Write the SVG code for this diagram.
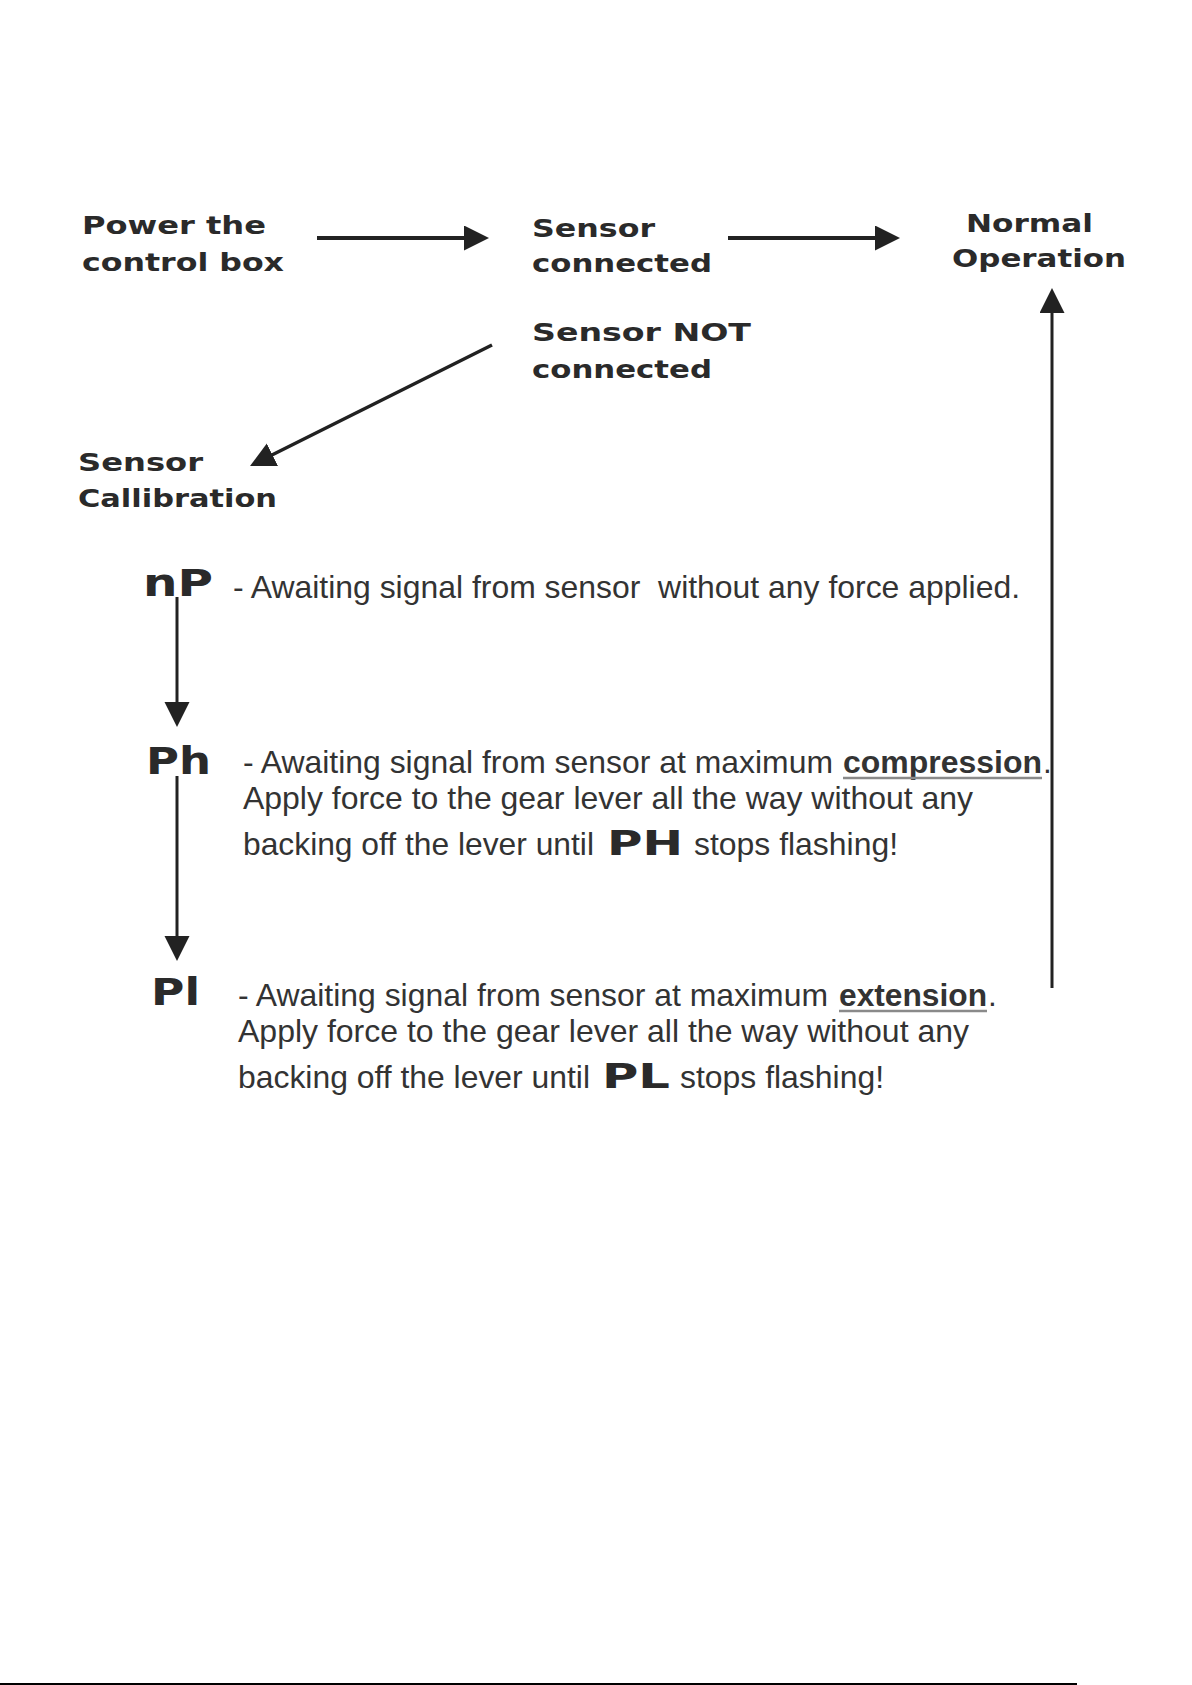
<svg xmlns="http://www.w3.org/2000/svg" width="1192" height="1685" viewBox="0 0 1192 1685">
<style>
.lbl{font-family:"DejaVu Sans","Liberation Sans",sans-serif;font-weight:bold;font-size:24px;fill:#2a2a2a}
.code{font-family:"DejaVu Sans","Liberation Sans",sans-serif;font-weight:bold;font-size:37px;fill:#2a2a2a}
.inl{font-family:"DejaVu Sans","Liberation Sans",sans-serif;font-weight:bold;font-size:33px;fill:#2a2a2a}
.body{font-family:"Liberation Sans",Arial,sans-serif;font-size:31.5px;fill:#333}
.bold{font-family:"Liberation Sans",Arial,sans-serif;font-size:31.5px;font-weight:bold;fill:#333}
.ul{stroke:#8a8a8a;stroke-width:2.5}
.conn{stroke:#222;fill:none;marker-end:url(#ah)}
</style>
<defs>
<marker id="ah" markerUnits="userSpaceOnUse" markerWidth="26" markerHeight="26" refX="19" refY="12.5" orient="auto" viewBox="0 0 26 26">
<path d="M0,0 L25,12.5 L0,25 z" fill="#222"/>
</marker>
</defs>
<rect width="1192" height="1685" fill="#fff"/>

<g id="power">
<text class="lbl" x="82" y="234" textLength="184" lengthAdjust="spacingAndGlyphs">Power the</text>
<text class="lbl" x="82" y="271" textLength="202" lengthAdjust="spacingAndGlyphs">control box</text>
</g>
<g id="connected">
<text class="lbl" x="532" y="237" textLength="123" lengthAdjust="spacingAndGlyphs">Sensor</text>
<text class="lbl" x="532" y="272" textLength="180" lengthAdjust="spacingAndGlyphs">connected</text>
</g>
<g id="normal">
<text class="lbl" x="966" y="232" textLength="127" lengthAdjust="spacingAndGlyphs">Normal</text>
<text class="lbl" x="952" y="267" textLength="174" lengthAdjust="spacingAndGlyphs">Operation</text>
</g>
<g id="notconnected">
<text class="lbl" x="532" y="341" textLength="219" lengthAdjust="spacingAndGlyphs">Sensor NOT</text>
<text class="lbl" x="532" y="378" textLength="180" lengthAdjust="spacingAndGlyphs">connected</text>
</g>
<g id="calibration">
<text class="lbl" x="78" y="471" textLength="125" lengthAdjust="spacingAndGlyphs">Sensor</text>
<text class="lbl" x="78" y="507" textLength="199" lengthAdjust="spacingAndGlyphs">Callibration</text>
</g>

<g id="np">
<text class="code" x="143" y="596" textLength="70" lengthAdjust="spacingAndGlyphs">nP</text>
<text class="body" x="233" y="598" textLength="787" lengthAdjust="spacingAndGlyphs" xml:space="preserve">- Awaiting signal from sensor  without any force applied.</text>
</g>

<g id="ph">
<text class="code" x="146" y="774" textLength="65" lengthAdjust="spacingAndGlyphs">Ph</text>
<text class="body" x="243" y="773" textLength="590" lengthAdjust="spacingAndGlyphs">- Awaiting signal from sensor at maximum</text>
<text class="bold" x="843" y="773" textLength="199" lengthAdjust="spacingAndGlyphs">compression</text>
<line class="ul" x1="843" y1="778" x2="1042" y2="778"/>
<text class="body" x="1043" y="773">.</text>
<text class="body" x="243" y="809" textLength="730" lengthAdjust="spacingAndGlyphs">Apply force to the gear lever all the way without any</text>
<text class="body" x="243" y="855" textLength="351" lengthAdjust="spacingAndGlyphs">backing off the lever until</text>
<text class="inl" x="607" y="855" textLength="76" lengthAdjust="spacingAndGlyphs">PH</text>
<text class="body" x="694" y="855" textLength="204" lengthAdjust="spacingAndGlyphs">stops flashing!</text>
</g>

<g id="pl">
<text class="code" x="151" y="1005" textLength="49" lengthAdjust="spacingAndGlyphs">Pl</text>
<text class="body" x="238" y="1006" textLength="590" lengthAdjust="spacingAndGlyphs">- Awaiting signal from sensor at maximum</text>
<text class="bold" x="839" y="1006" textLength="148" lengthAdjust="spacingAndGlyphs">extension</text>
<line class="ul" x1="839" y1="1011" x2="987" y2="1011"/>
<text class="body" x="988" y="1006">.</text>
<text class="body" x="238" y="1042" textLength="731" lengthAdjust="spacingAndGlyphs">Apply force to the gear lever all the way without any</text>
<text class="body" x="238" y="1088" textLength="352" lengthAdjust="spacingAndGlyphs">backing off the lever until</text>
<text class="inl" x="602" y="1088" textLength="68" lengthAdjust="spacingAndGlyphs">PL</text>
<text class="body" x="680" y="1088" textLength="204" lengthAdjust="spacingAndGlyphs">stops flashing!</text>
</g>

<g id="connectors">
<line class="conn" stroke-width="4" x1="317" y1="238" x2="483" y2="238"/>
<line class="conn" stroke-width="4" x1="728" y1="238" x2="894" y2="238"/>
<line class="conn" stroke-width="3.5" x1="492" y1="345" x2="255.4" y2="463.3"/>
<line class="conn" stroke-width="3" x1="1052" y1="988" x2="1052" y2="294"/>
<line class="conn" stroke-width="3" x1="177" y1="597" x2="177" y2="721"/>
<line class="conn" stroke-width="3" x1="177" y1="776" x2="177" y2="955"/>
</g>

<line x1="0" y1="1684" x2="1077" y2="1684" stroke="#000" stroke-width="2"/>
</svg>
